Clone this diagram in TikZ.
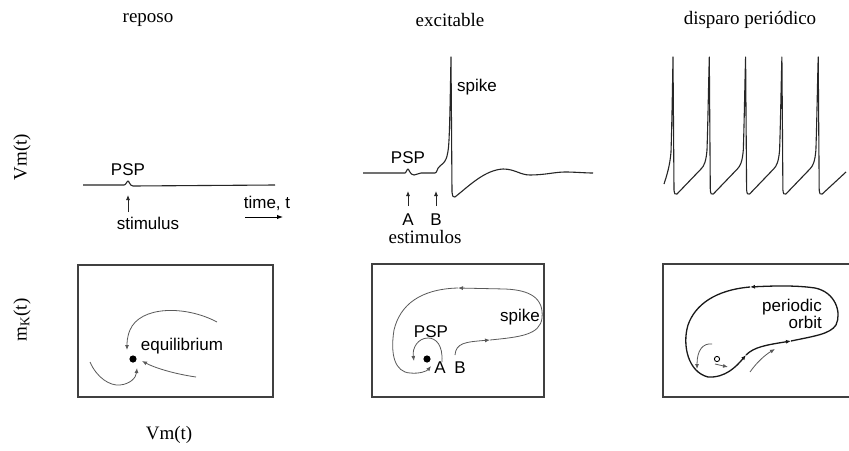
\documentclass[tikz,border=0pt]{standalone}
\usepackage{fontspec}
\setmainfont{Liberation Serif}
\setsansfont{Liberation Sans}
\usetikzlibrary{arrows.meta}

\begin{document}
\begin{tikzpicture}[x=1pt,y=-1pt,
  title/.style={font=\fontsize{19}{22}\selectfont, inner sep=0pt},
  lbl/.style={font=\sffamily\fontsize{17}{20}\selectfont, inner sep=0pt},
  trace/.style={line width=1.1pt, draw=black!85, line join=round},
  flow/.style={line width=0.8pt, draw=black!65},
  orbit/.style={line width=1.3pt, draw=black!90},
  tip/.style={-{Latex[length=5pt,width=4pt]}},
  frame/.style={draw=black!75, line width=1.6pt}]
\useasboundingbox (0,0) rectangle (849,450);
\fill[white] (0,0) rectangle (849,450);

% column titles and axis labels
\node[title] (t1) at (148,20) {reposo};
\node[title] (t2) at (450,20) {excitable};
\node[title] (t3) at (750,20) {disparo periódico};
\node[title, rotate=90] (yv) at (22,157) {Vm(t)};
\node[title, rotate=90] (ym) at (22,320) {m\textsubscript{K}(t)};
\node[title] (xv) at (169,435) {Vm(t)};

% ---- resting trace ----
\draw[trace] (83,185) -- (124,185) .. controls (126,185) and (127,181) .. (128,181)
  .. controls (129,181) and (130,186) .. (133,186) -- (275,185);
\node[lbl] (psp1) at (128,170) {PSP};
\coordinate (s1a) at (128,212);
\coordinate (s1b) at (128,195);
\draw[flow, draw=black!85, tip] (s1a) -- (s1b);
\node[lbl] (stim) at (148,223) {stimulus};
\node[lbl] (time) at (267,203) {time, t};
\coordinate (ta) at (245,217);
\coordinate (tb) at (283,217);
\draw[line width=1pt, -{Latex[length=6pt,width=4.5pt]}] (ta) -- (tb);

% ---- excitable trace ----
\draw[trace] (363,173) -- (405,173) .. controls (406,173) and (407,169) .. (408,169)
  .. controls (409,169) and (410,175) .. (414,175) .. controls (417,175) and (418,173) .. (421,173)
  -- (435,173) .. controls (437,173) and (437,168) .. (440,166)
  .. controls (445,162) and (448,160) .. (449,140)
  .. controls (450,120) and (450.5,80) .. (451,57) -- (452,192)
  .. controls (452.5,196) and (453,198) .. (455,197)
  .. controls (470,185) and (485,170) .. (503,169)
  .. controls (515,169) and (520,175) .. (530,175)
  .. controls (545,175) and (555,172) .. (565,172)
  .. controls (575,172) and (585,173) .. (593,173);
\node[lbl] (psp2) at (408,158) {PSP};
\node[lbl] (spk2) at (477,87) {spike};
\coordinate (a0) at (408,206);
\coordinate (a1) at (408,191);
\coordinate (b0) at (436,206);
\coordinate (b1) at (436,191);
\draw[flow, draw=black!85, tip] (a0) -- (a1);
\draw[flow, draw=black!85, tip] (b0) -- (b1);
\node[lbl] (la) at (408,220) {A};
\node[lbl] (lb) at (436,220) {B};
\node[title] (est) at (425,237) {estimulos};

% ---- periodic firing trace ----
\draw[trace] (664,184) .. controls (667,175) and (670,165) .. (671,152)
  .. controls (672,120) and (672.5,85) .. (673,57)
  \foreach \k in {0,1,2,3} {
    -- ({674+36.3*\k},190) .. controls ({674.5+36.3*\k},194) and ({675+36.3*\k},195) .. ({677+36.3*\k},194)
    -- ({701+36.3*\k},169) .. controls ({704+36.3*\k},166) and ({706+36.3*\k},162) .. ({707+36.3*\k},150)
    .. controls ({708+36.3*\k},120) and ({708.5+36.3*\k},85) .. ({709.3+36.3*\k},57)
  }
  -- (819.2,190) .. controls (819.7,194) and (820.2,195) .. (822.2,194)
  -- (846,172);

% ---- phase plane frames ----
\draw[frame] (78,265) rectangle (273,397);
\draw[frame] (372,264) rectangle (544,397);
\draw[frame] (663,264) rectangle (852,397);

% resting: stable equilibrium
\fill (133,359) circle (3.6pt);
\node[lbl] (eq) at (182,346) {equilibrium};
\draw[flow, tip] (217,322) .. controls (185,305) and (140,306) .. (130,330)
  .. controls (127,337) and (127,343) .. (127,350);
\draw[flow, tip] (90,362) .. controls (97,378) and (110,386) .. (120,385)
  .. controls (130,384) and (136,378) .. (137,368);
\draw[flow, tip] (196,377) .. controls (175,374) and (155,368) .. (142,361);

% excitable: sub- and suprathreshold excursions
\fill (427,359) circle (3.6pt);
\node[lbl] (pA) at (440,368) {A};
\node[lbl] (pB) at (460,368) {B};
\node[lbl] (pp) at (431,332) {PSP};
\node[lbl] (ps) at (520,317) {spike};
\draw[flow, tip] (442,362) .. controls (443,345) and (436,338) .. (428,338)
  .. controls (418,338) and (412,348) .. (414,361);
\coordinate (q1) at (490,340);
\coordinate (q2) at (458,288);
\coordinate (q3) at (431,366);
\draw[flow, tip] (455,355) .. controls (456,343) and (465,342) .. (q1);
\draw[flow, tip] (q1) .. controls (520,337) and (540,335) .. (542,318)
  .. controls (544,298) and (530,290) .. (505,289) -- (q2);
\draw[flow, tip] (q2) .. controls (420,289) and (400,305) .. (394,330)
  .. controls (390,355) and (395,372) .. (410,373)
  .. controls (420,374) and (427,371) .. (q3);

% periodic: limit cycle
\draw[line width=0.9pt] (717,359) circle (2.6pt);
\node[lbl, align=right] (po) at (792,314) {periodic\\[-3pt]\phantom{xx}orbit};
\coordinate (o1) at (746,355);
\coordinate (o2) at (791,341);
\coordinate (o3) at (750,287);
\coordinate (o0) at (708,377);
\draw[orbit, tip] (o0) .. controls (725,378) and (736,367) .. (o1);
\draw[orbit, tip] (o1) .. controls (754,347) and (766,345) .. (o2);
\draw[orbit, tip] (o2) .. controls (815,336) and (830,334) .. (836,325)
  .. controls (842,312) and (835,292) .. (815,288)
  .. controls (795,285) and (770,286) .. (o3);
\draw[orbit] (o3) .. controls (715,290) and (695,305) .. (688,325)
  .. controls (682,345) and (688,372) .. (o0);
\draw[flow, tip] (712,344) .. controls (703,343) and (697,350) .. (697,369);
\draw[flow, tip] (715,364) -- (728,367);
\draw[flow, tip] (750,372) .. controls (757,362) and (765,355) .. (775,349);
\end{tikzpicture}
\end{document}
